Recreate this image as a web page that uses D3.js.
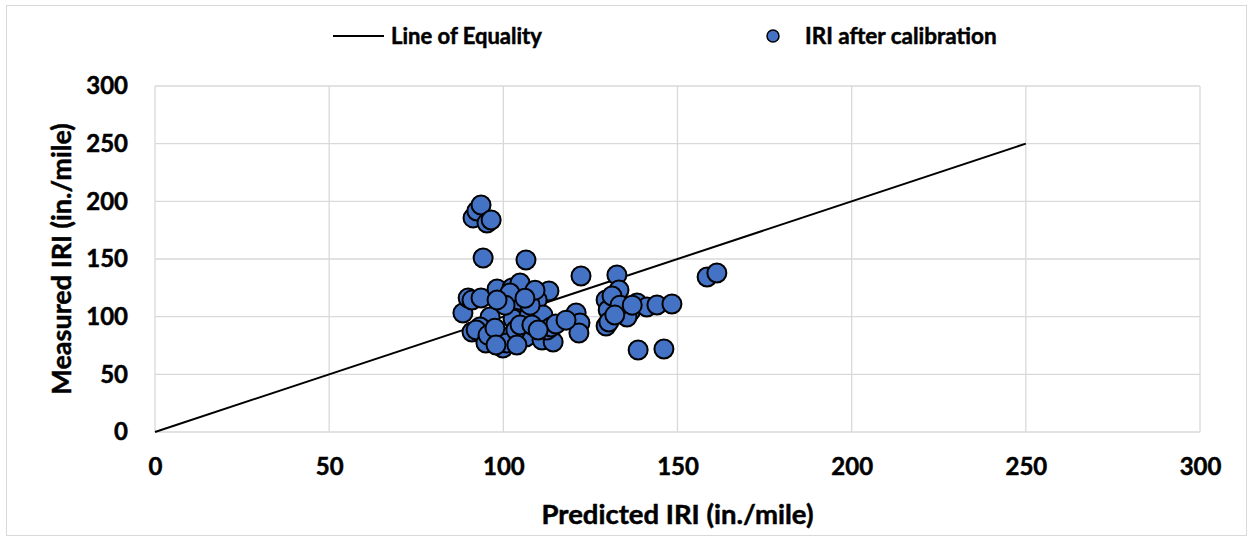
<!DOCTYPE html>
<html>
<head>
<meta charset="utf-8">
<script src="https://cdn.jsdelivr.net/npm/d3@7"></script>
<style>
  body { margin: 0; background: #fff; }
  svg text { font-family: Lato, "Open Sans", sans-serif; font-weight: bold; fill: #000; stroke: #000; stroke-width: 0.5px; }
</style>
</head>
<body>
<svg id="chart" width="1252" height="540"></svg>
<script>
// IRI after calibration: predicted (x) vs measured (y)
var predicted = [91.3, 92.4, 93.6, 95.3, 96.5, 94.2, 106.5, 122.3, 132.6, 133.2, 158.5, 161.3, 113.1,
    88.4, 89.9, 91.0, 93.6, 98.2, 102.5, 104.8, 104.5, 101.9, 109.7, 96.2, 93.3, 91.0, 92.2, 95.0,
    99.6, 99.9, 101.0, 102.8, 106.5, 107.4, 111.4, 107.7, 103.6, 104.8, 111.1, 114.3, 112.5, 113.7,
    115.1, 120.9, 122.0, 121.7, 129.5, 130.1, 129.5, 130.3, 131.2, 136.4, 135.5, 138.4, 141.2, 144.1,
    148.4, 138.7, 146.1,
    100.5, 98.2, 109.1, 106.2, 95.6, 97.6, 108.2, 110.0, 103.9, 118.0, 97.9, 133.5, 132.0, 137.0];
var measured = [185.6, 191.6, 196.8, 181.2, 183.8, 150.9, 149.1, 135.3, 136.1, 123.1, 134.4, 137.9, 122.3,
    103.2, 116.2, 114.4, 116.2, 124.0, 124.9, 129.2, 114.5, 120.5, 114.5, 99.7, 91.0, 86.7, 88.4, 77.2,
    82.4, 72.8, 77.2, 98.0, 82.4, 100.6, 101.4, 110.0, 88.4, 92.8, 79.8, 78.0, 88.4, 91.0,
    93.6, 103.2, 94.5, 85.8, 114.5, 105.8, 91.9, 95.4, 117.9, 104.1, 99.7, 111.9, 108.4, 110.1,
    111.0, 71.1, 72.0,
    110.0, 114.5, 123.0, 116.0, 84.0, 90.0, 92.8, 88.4, 75.4, 97.0, 75.4, 110.0, 101.4, 110.0];
var equality = [0, 250];
var ticks = [0, 50, 100, 150, 200, 250, 300];

var svg = d3.select('#chart');
var margin = {top: 86, right: 52, bottom: 108, left: 155};
var width = 1252 - margin.left - margin.right;
var height = 540 - margin.top - margin.bottom;

// outer chart border
svg.append('rect')
    .attr('x', 6.5).attr('y', 5.5)
    .attr('width', 1240).attr('height', 530)
    .attr('fill', 'none').attr('stroke', '#d9d9d9');

var x = d3.scaleLinear().domain([0, 300]).range([0, width]);
var y = d3.scaleLinear().domain([0, 300]).range([height, 0]);

var g = svg.append('g')
    .attr('transform', 'translate(' + margin.left + ',' + margin.top + ')');

// gridlines
g.selectAll('.hgrid').data(ticks).enter().append('line')
    .attr('x1', 0).attr('x2', width)
    .attr('y1', function(d) { return y(d); }).attr('y2', function(d) { return y(d); })
    .attr('stroke', '#d9d9d9').attr('stroke-width', 1.3);
g.selectAll('.vgrid').data(ticks).enter().append('line')
    .attr('y1', 0).attr('y2', height)
    .attr('x1', function(d) { return x(d); }).attr('x2', function(d) { return x(d); })
    .attr('stroke', '#d9d9d9').attr('stroke-width', 1.3);

// axes (labels only)
var xAxis = g.append('g')
    .attr('transform', 'translate(0,' + height + ')')
    .call(d3.axisBottom(x).tickValues(ticks).tickSize(0).tickPadding(26));
var yAxis = g.append('g')
    .call(d3.axisLeft(y).tickValues(ticks).tickSize(0).tickPadding(27));
[xAxis, yAxis].forEach(function(a) {
    a.select('.domain').remove();
    a.selectAll('text').style('font-size', '24px').attr('font-family', null);
});

// line of equality
g.append('line')
    .attr('x1', x(equality[0])).attr('y1', y(equality[0]))
    .attr('x2', x(equality[1])).attr('y2', y(equality[1]))
    .attr('stroke', '#000').attr('stroke-width', 2);

// points
g.selectAll('.pt').data(predicted).enter().append('circle')
    .attr('class', 'pt')
    .attr('cx', function(d) { return x(d); })
    .attr('cy', function(d, i) { return y(measured[i]); })
    .attr('r', 9.5)
    .attr('fill', '#4472c4')
    .attr('stroke', '#000').attr('stroke-width', 2);

// axis titles
svg.append('text')
    .attr('x', margin.left + width / 2).attr('y', 524)
    .attr('text-anchor', 'middle')
    .style('font-size', '27.5px')
    .text('Predicted IRI (in./mile)');
svg.append('text')
    .attr('transform', 'translate(71,' + (margin.top + height / 2) + ') rotate(-90)')
    .attr('text-anchor', 'middle')
    .style('font-size', '27px')
    .text('Measured IRI (in./mile)');

// legend
var lg = svg.append('g');
lg.append('line').attr('x1', 333).attr('x2', 384).attr('y1', 36).attr('y2', 36)
    .attr('stroke', '#000').attr('stroke-width', 2);
lg.append('text').attr('x', 391).attr('y', 43.5).style('font-size', '22px').text('Line of Equality');
lg.append('circle').attr('cx', 773).attr('cy', 36).attr('r', 6)
    .attr('fill', '#4472c4').attr('stroke', '#000').attr('stroke-width', 1.5);
lg.append('text').attr('x', 805).attr('y', 43.5).style('font-size', '22.5px').text('IRI after calibration');
</script>
</body>
</html>
